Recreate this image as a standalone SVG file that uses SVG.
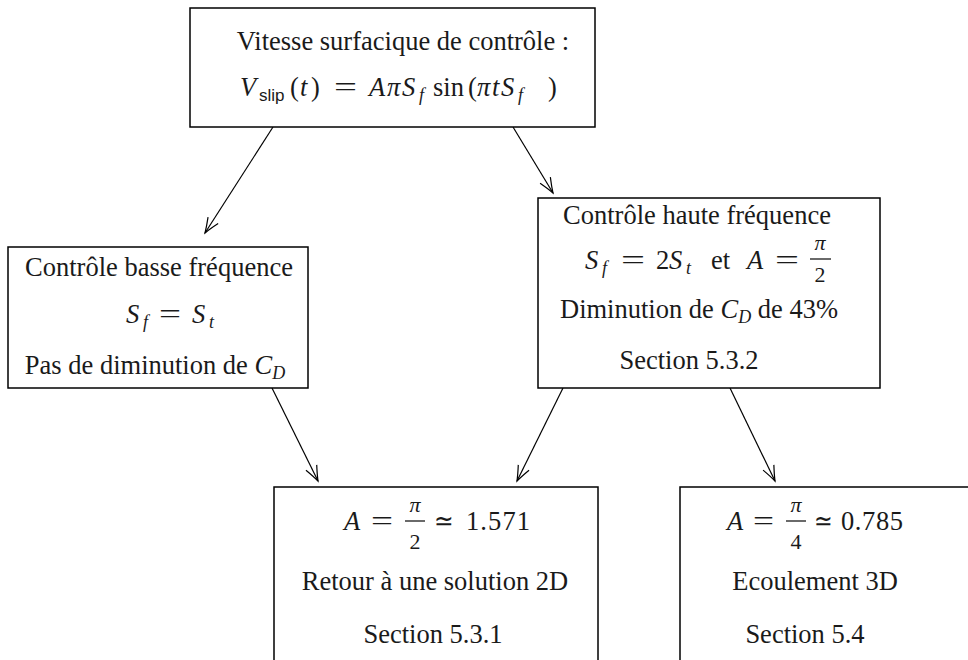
<svg xmlns="http://www.w3.org/2000/svg" width="968" height="660" viewBox="0 0 968 660">
<defs>
<marker id="arr" markerWidth="18" markerHeight="14" refX="16" refY="7" orient="auto" markerUnits="userSpaceOnUse">
<path d="M1,1 Q10,5 16,7 Q10,9 1,13" fill="none" stroke="#000" stroke-width="1.2"/>
</marker>
<style>
.box{fill:#fff;stroke:#000;stroke-width:1.5}
.t,.m,.s,.fr{font-family:"Liberation Serif","Times New Roman",serif;fill:#1a1a1a}
.t{font-size:26.5px}
.m{font-size:26.5px}
.i{font-style:italic}
.s{font-size:18px;font-style:italic}
.ss{font-family:"Liberation Sans",Arial,sans-serif;font-size:17px;fill:#1a1a1a}
.fr{font-size:22px}
.bar{stroke:#1a1a1a;stroke-width:1.3}
.c{stroke:#000;stroke-width:1.2;fill:none}
</style>
</defs>
<g id="connectors">
<line class="c" x1="273" y1="127" x2="205" y2="233" marker-end="url(#arr)"/>
<line class="c" x1="513" y1="127" x2="553" y2="193" marker-end="url(#arr)"/>
<line class="c" x1="272" y1="388" x2="318" y2="481" marker-end="url(#arr)"/>
<line class="c" x1="563" y1="388" x2="517" y2="481" marker-end="url(#arr)"/>
<line class="c" x1="730" y1="388" x2="775" y2="481" marker-end="url(#arr)"/>
</g>
<g id="top">
<rect class="box" x="190" y="8" width="405" height="119"/>
<text class="t" x="403" y="50" text-anchor="middle">Vitesse surfacique de contrôle :</text>
<text class="m i" x="240" y="96">V</text>
<text class="ss" x="259" y="101">slip</text>
<text class="m" x="290" y="96">(</text>
<text class="m i" x="300" y="96">t</text>
<text class="m" x="311" y="96">)</text>
<text class="m" x="334" y="96" textLength="23" lengthAdjust="spacingAndGlyphs">=</text>
<text class="m i" x="369" y="96">A</text>
<text class="m i" x="387" y="96">π</text>
<text class="m i" x="402" y="96">S</text>
<text class="s" x="419" y="101">f</text>
<text class="m" x="433" y="96">sin</text>
<text class="m" x="468" y="96">(</text>
<text class="m i" x="477" y="96">π</text>
<text class="m i" x="492" y="96">t</text>
<text class="m i" x="501" y="96">S</text>
<text class="s" x="518" y="101">f</text>
<text class="m" x="548" y="96">)</text>
</g>
<g id="low">
<rect class="box" x="8" y="247" width="300" height="141"/>
<text class="t" x="159" y="276" text-anchor="middle">Contrôle basse fréquence</text>
<text class="m i" x="126" y="323">S</text>
<text class="s" x="143" y="328">f</text>
<text class="m" x="159" y="323" textLength="22" lengthAdjust="spacingAndGlyphs">=</text>
<text class="m i" x="192" y="323">S</text>
<text class="s" x="209" y="328">t</text>
<text class="t" x="155" y="374" text-anchor="middle">Pas de diminution de <tspan class="i">C</tspan><tspan class="s" dy="5">D</tspan></text>
</g>
<g id="high">
<rect class="box" x="538" y="198" width="342" height="190"/>
<text class="t" x="697" y="224" text-anchor="middle">Contrôle haute fréquence</text>
<text class="m i" x="585" y="269">S</text>
<text class="s" x="602" y="274">f</text>
<text class="m" x="621" y="269" textLength="24" lengthAdjust="spacingAndGlyphs">=</text>
<text class="m" x="656" y="269">2</text>
<text class="m i" x="669" y="269">S</text>
<text class="s" x="686" y="274">t</text>
<text class="m" x="711" y="269">et</text>
<text class="m i" x="747" y="269">A</text>
<text class="m" x="775" y="269" textLength="24" lengthAdjust="spacingAndGlyphs">=</text>
<text class="fr i" x="820" y="250" text-anchor="middle">π</text>
<line class="bar" x1="810" y1="259" x2="831" y2="259"/>
<text class="fr" x="820" y="282" text-anchor="middle">2</text>
<text class="t" x="699" y="318" text-anchor="middle">Diminution de <tspan class="i">C</tspan><tspan class="s" dy="5">D</tspan><tspan dy="-5"> de 43%</tspan></text>
<text class="t" x="689" y="369" text-anchor="middle">Section 5.3.2</text>
</g>
<g id="res2d">
<rect class="box" x="274" y="487" width="324" height="190"/>
<text class="m i" x="344" y="530">A</text>
<text class="m" x="371" y="530" textLength="22" lengthAdjust="spacingAndGlyphs">=</text>
<text class="fr i" x="415" y="512" text-anchor="middle">π</text>
<line class="bar" x1="405" y1="521" x2="425" y2="521"/>
<text class="fr" x="415" y="549" text-anchor="middle">2</text>
<text class="m" x="434" y="530" textLength="20" lengthAdjust="spacingAndGlyphs">≃</text>
<text class="m" x="466" y="530" textLength="64" lengthAdjust="spacing">1.571</text>
<text class="t" x="435" y="590" text-anchor="middle">Retour à une solution 2D</text>
<text class="t" x="433" y="643" text-anchor="middle">Section 5.3.1</text>
</g>
<g id="res3d">
<rect class="box" x="680" y="487" width="300" height="190"/>
<text class="m i" x="727" y="530">A</text>
<text class="m" x="753" y="530" textLength="21" lengthAdjust="spacingAndGlyphs">=</text>
<text class="fr i" x="796" y="512" text-anchor="middle">π</text>
<line class="bar" x1="786" y1="521" x2="806" y2="521"/>
<text class="fr" x="796" y="549" text-anchor="middle">4</text>
<text class="m" x="814" y="530" textLength="19" lengthAdjust="spacingAndGlyphs">≃</text>
<text class="m" x="841" y="530" textLength="62" lengthAdjust="spacing">0.785</text>
<text class="t" x="815" y="590" text-anchor="middle">Ecoulement 3D</text>
<text class="t" x="805" y="643" text-anchor="middle">Section 5.4</text>
</g>
</svg>
